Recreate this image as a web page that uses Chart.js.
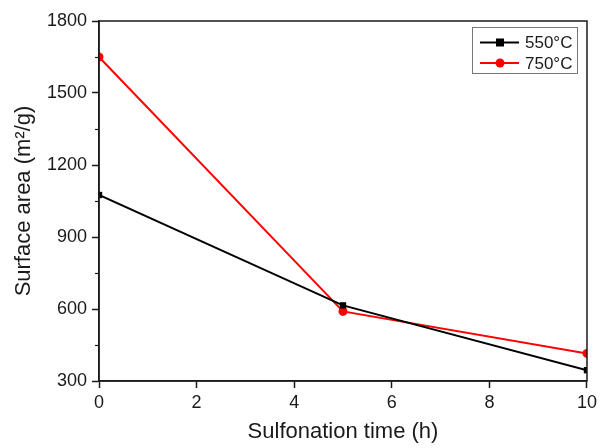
<!DOCTYPE html>
<html>
<head>
<meta charset="utf-8">
<script src="https://cdn.jsdelivr.net/npm/chart.js@4"></script>
<style>
  html, body { margin: 0; padding: 0; background: #fff; }
  #wrap { width: 601px; height: 448px; }
</style>
</head>
<body>
<div id="wrap"><canvas id="c" width="601" height="448"></canvas></div>
<script>
'use strict';

// data
var times = [0, 5, 10];
var area550 = [1075, 615, 345];
var area750 = [1650, 590, 415];
var seriesNames = ['550°C', '750°C'];
var yMinorTicks = [450, 750, 1050, 1350, 1650];

var FONT = "'Liberation Sans', Arial, sans-serif";

function toPoints (xs, ys) {
  var pts = [];
  for (var i = 0; i < xs.length; i++) {
    pts.push({ x: xs[i], y: ys[i] });
  }
  return pts;
}

function plainTick (value) {
  return String(value);
}

// frame, minor ticks and the boxed legend
var extras = {
  id: 'extras',
  afterDraw: function (chart) {
    var ctx = chart.ctx;
    var a = chart.chartArea;
    var ys = chart.scales.y;

    ctx.save();
    ctx.strokeStyle = '#1a1a1a';
    ctx.lineWidth = 1.5;
    ctx.strokeRect(a.left, a.top, a.right - a.left, a.bottom - a.top);

    ctx.lineWidth = 1.2;
    yMinorTicks.forEach(function (v) {
      var py = Math.round(ys.getPixelForValue(v)) + 0.5;
      ctx.beginPath();
      ctx.moveTo(a.left - 4, py);
      ctx.lineTo(a.left, py);
      ctx.stroke();
    });

    // legend
    var bx = 472, by = 27, bw = 105, bh = 46;
    ctx.fillStyle = '#fff';
    ctx.fillRect(bx, by, bw, bh);
    ctx.strokeStyle = '#777';
    ctx.lineWidth = 1;
    ctx.strokeRect(bx + 0.5, by + 0.5, bw, bh);

    chart.data.datasets.forEach(function (ds, i) {
      var cy = 42.5 + i * 20.5;
      ctx.strokeStyle = ds.borderColor;
      ctx.lineWidth = 2;
      ctx.beginPath();
      ctx.moveTo(480, cy);
      ctx.lineTo(519, cy);
      ctx.stroke();
      ctx.fillStyle = ds.backgroundColor;
      if (ds.pointStyle === 'rect') {
        ctx.fillRect(496, cy - 4, 8, 8);
      } else {
        ctx.beginPath();
        ctx.arc(500, cy, 4.5, 0, Math.PI * 2);
        ctx.fill();
      }
      ctx.fillStyle = '#1a1a1a';
      ctx.font = '17px ' + FONT;
      ctx.textBaseline = 'middle';
      ctx.textAlign = 'left';
      ctx.fillText(ds.label, 525, cy + 1);
    });
    ctx.restore();
  }
};

var chart = new Chart(document.getElementById('c'), {
  type: 'line',
  data: {
    datasets: [{
      label: seriesNames[0],
      data: toPoints(times, area550),
      borderColor: '#000',
      backgroundColor: '#000',
      borderWidth: 2,
      pointStyle: 'rect',
      pointRadius: 4.5,
      pointBorderWidth: 0,
      clip: 0
    }, {
      label: seriesNames[1],
      data: toPoints(times, area750),
      borderColor: '#ff0000',
      backgroundColor: '#ff0000',
      borderWidth: 2,
      pointStyle: 'circle',
      pointRadius: 4.5,
      pointBorderWidth: 0,
      clip: 0
    }]
  },
  options: {
    responsive: false,
    animation: false,
    layout: { padding: { left: 0, top: 21, right: 13, bottom: 0 } },
    plugins: {
      legend: { display: false },
      tooltip: { enabled: false }
    },
    scales: {
      x: {
        type: 'linear',
        min: 0,
        max: 10,
        ticks: {
          stepSize: 2,
          color: '#1a1a1a',
          font: { family: FONT, size: 18 },
          padding: 4,
          maxRotation: 0,
          callback: plainTick
        },
        grid: { drawOnChartArea: false, tickLength: 7, tickColor: '#1a1a1a', tickWidth: 1.5 },
        border: { color: '#1a1a1a', width: 1.5 },
        title: {
          display: true,
          text: 'Sulfonation time (h)',
          color: '#1a1a1a',
          font: { family: FONT, size: 22 },
          padding: { top: 0, bottom: 3 }
        },
        afterFit: function (scale) { scale.height = 67; }
      },
      y: {
        min: 300,
        max: 1800,
        ticks: {
          stepSize: 300,
          color: '#1a1a1a',
          font: { family: FONT, size: 18 },
          padding: 5,
          callback: plainTick
        },
        grid: { drawOnChartArea: false, tickLength: 7, tickColor: '#1a1a1a', tickWidth: 1.5 },
        border: { color: '#1a1a1a', width: 1.5 },
        title: {
          display: true,
          text: 'Surface area (m²/g)',
          color: '#1a1a1a',
          font: { family: FONT, size: 22 },
          padding: { top: 11, bottom: 0 }
        },
        afterFit: function (scale) { scale.width = 99; }
      }
    }
  },
  plugins: [extras]
});
</script>
</body>
</html>
